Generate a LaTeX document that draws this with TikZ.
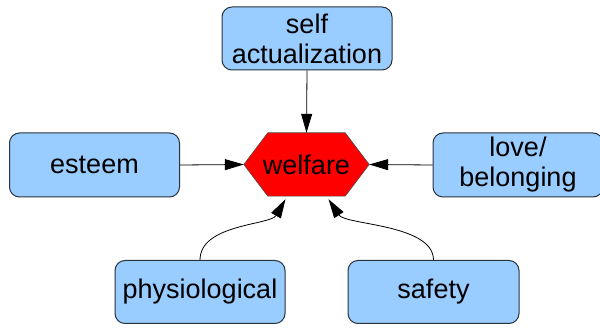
\documentclass[tikz,border=0pt]{standalone}
\usepackage{fontspec}
\setmainfont{Liberation Sans}
\usetikzlibrary{arrows.meta,calc}
\definecolor{boxblue}{RGB}{153,204,255}
\definecolor{boxline}{RGB}{40,50,60}
\begin{document}
\begin{tikzpicture}[x=1pt,y=-1pt,
  box/.style={draw=boxline,line width=1pt,fill=boxblue,rounded corners=10pt,
    minimum width=170pt,minimum height=63pt,inner sep=0pt,align=center,
    font=\fontsize{27}{30}\selectfont},
  arr/.style={draw=black,line width=0.8pt,-{Triangle[length=19pt,width=11pt]}}]
\useasboundingbox (0,0) rectangle (600,328);
\node[box] (sa) at (307,38.5) {self\\actualization};
\node[box,minimum height=64pt] (es) at (94.5,165) {esteem};
\node[box,minimum height=64pt] (lb) at (518,165) {love/\\belonging};
\node[box] (ph) at (200,292) {physiological};
\node[box,minimum width=171pt] (sf) at (433.5,292) {safety};
\node[minimum width=77pt,minimum height=63pt,inner sep=0pt] (w) at (306.5,164.5) {};
\coordinate (wl) at ($(w.west)+(-24,0)$);
\coordinate (wr) at ($(w.east)+(24,0)$);
\fill[red,draw=black!70,line width=0.6pt] (wl) -- (w.north west) -- (w.north east) -- (wr) -- (w.south east) -- (w.south west) -- cycle;
\node[font=\fontsize{27}{30}\selectfont] (wt) at (w.center) {welfare};
\coordinate (wb1) at ($(w.south)+(-21,3)$);
\coordinate (wb2) at ($(w.south)+(22,3)$);
\draw[arr] (sa.south) -- (w.north);
\draw[arr] (es.east) -- (wl);
\draw[arr] (lb.west) -- (wr);
\draw[arr] (ph.north) .. controls +(0,-36) and +(-15,26) .. (wb1);
\draw[arr] (sf.north) .. controls +(0,-36) and +(17,26) .. (wb2);
\end{tikzpicture}
\end{document}
